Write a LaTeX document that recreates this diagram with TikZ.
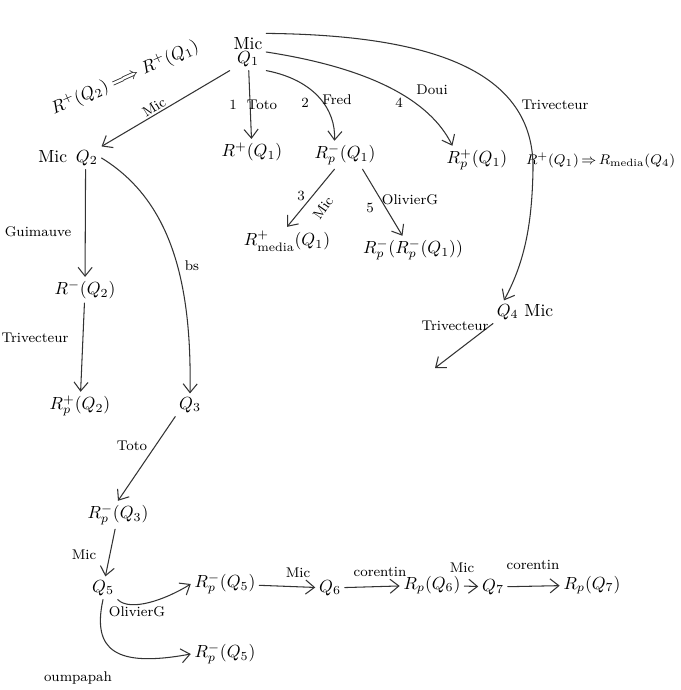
\documentclass[tikz,border=0pt]{standalone}
\usepackage{amsmath,amssymb}
\usepackage{tikz}
\usetikzlibrary{arrows.meta,positioning,calc}

\begin{document}
\begin{tikzpicture}[x=0.02cm,y=-0.02cm,line join=round,line cap=round,
    st/.style={font=\normalsize,inner sep=2pt},
    lbl/.style={font=\footnotesize,inner sep=1pt},
    arr/.style={draw=black!80,semithick,-{Straight Barb[length=5pt,width=8pt]}}]
      \useasboundingbox (0,0) rectangle (680,690);
      % top of the tree
      \node[st,align=center] (Q1) at (248,52) {Mic\\[-4pt]$Q_1$};
      \node[st] (Rp1) at (252,152) {$R^+(Q_1)$};
      \node[st] (Rpm1) at (345,155) {$R_p^-(Q_1)$};
      \node[st] (Rpp1) at (477,160) {$R_p^+(Q_1)$};
      \node[st,font=\footnotesize,anchor=east] (imp1) at (679,160) {$R^+(Q_1)\,{\Rightarrow}\,R_{\text{media}}(Q_4)$};
      \node[st,rotate=24] (imp2) at (125,78) {$R^+(Q_2)\Longrightarrow R^+(Q_1)$};
      \node[st] (Rmed1) at (287,241) {$R^+_{\text{media}}(Q_1)$};
      \node[st] (Rpp2) at (413,250) {$R_p^-(R_p^-(Q_1))$};
      \node[st] (Q4) at (525,312) {$Q_4$ Mic};
      \coordinate (end4) at (435,368);
      % left branch
      \node[st] (Q2) at (68,158) {Mic\enspace$Q_2$};
      \node[st] (Rm2) at (85,290) {$R^-(Q_2)$};
      \node[st] (Rpq2) at (80,406) {$R_p^+(Q_2)$};
      \node[st] (Q3) at (190,405) {$Q_3$};
      \node[st] (Rpm3) at (118,515) {$R_p^-(Q_3)$};
      \node[st] (Q5) at (103,588) {$Q_5$};
      \node[st] (Rpm5a) at (225,584) {$R_p^-(Q_5)$};
      \node[st] (Q6) at (330,588) {$Q_6$};
      \node[st] (Rq6) at (432,585) {$R_p(Q_6)$};
      \node[st] (Q7) at (493,587) {$Q_7$};
      \node[st] (Rq7) at (592,585) {$R_p(Q_7)$};
      \node[st] (Rpm5b) at (225,654) {$R_p^-(Q_5)$};
      % connectors
      \draw[arr] (Q1) -- (Rp1);
      \draw[arr] (Q1.south east) .. controls (315,80) and (336,110) .. ([xshift=-6pt]Rpm1.north);
      \draw[arr] (Q1.east) .. controls (370,68) and (430,100) .. ([xshift=-14pt]Rpp1.north);
      \draw[arr] (Q1.north east) .. controls (430,35) and (535,70) .. (533,170)
                 .. controls (532,220) and (526,260) .. ([xshift=-12pt]Q4.north);
      \draw[arr] (Q4.south west) -- (end4);
      \draw[arr] (Q1.south west) -- (Q2.north east);
      \draw[arr] ([xshift=-6pt]Rpm1.south) -- (Rmed1.north);
      \draw[arr] ([xshift=10pt]Rpm1.south) -- ([xshift=-6pt]Rpp2.north);
      \draw[arr] ([xshift=10pt]Q2.south) -- (Rm2);
      \draw[arr] (Rm2) -- (Rpq2);
      \draw[arr] (Q2.east) .. controls (170,200) and (192,280) .. (Q3.north);
      \draw[arr] (Q3.south west) -- (Rpm3.north);
      \draw[arr] (Rpm3) -- (Q5);
      \draw[arr] (Q5.south east) .. controls (130,612) and (165,600) .. (Rpm5a.west);
      \draw[arr] (Q5.south) .. controls (92,650) and (115,668) .. (Rpm5b.west);
      \draw[arr] (Rpm5a) -- (Q6);
      \draw[arr] (Q6) -- (Rq6);
      \draw[arr] (Rq6) -- (Q7);
      \draw[arr] (Q7) -- (Rq7);
      % labels
      \node[lbl] (n1) at (233,105) {1};
      \node[lbl] (lToto1) at (262,105) {Toto};
      \node[lbl] (n2) at (305,103) {2};
      \node[lbl] (lFred) at (337,100) {Fred};
      \node[lbl] (n4) at (399,103) {4};
      \node[lbl] (lDoui) at (432,90) {Doui};
      \node[lbl] (lTriv1) at (555,105) {Trivecteur};
      \node[lbl,rotate=32] (lMic1) at (154,107) {Mic};
      \node[lbl] (n3) at (301,196) {3};
      \node[lbl,rotate=55] (lMic3) at (323,208) {Mic};
      \node[lbl] (n5) at (370,208) {5};
      \node[lbl] (lOliv1) at (410,200) {OlivierG};
      \node[lbl] (lTriv2) at (455,326) {Trivecteur};
      \node[lbl] (lGuim) at (38,232) {Guimauve};
      \node[lbl] (lTriv3) at (35,338) {Trivecteur};
      \node[lbl] (lbs) at (192,266) {bs};
      \node[lbl] (lToto2) at (132,446) {Toto};
      \node[lbl] (lMic5) at (84,555) {Mic};
      \node[lbl] (lOliv2) at (137,612) {OlivierG};
      \node[lbl] (lOump) at (78,678) {oumpapah};
      \node[lbl] (lMic6) at (298,573) {Mic};
      \node[lbl] (lCor1) at (380,572) {corentin};
      \node[lbl] (lMic7) at (462,568) {Mic};
      \node[lbl] (lCor2) at (533,565) {corentin};
\end{tikzpicture}
\end{document}
